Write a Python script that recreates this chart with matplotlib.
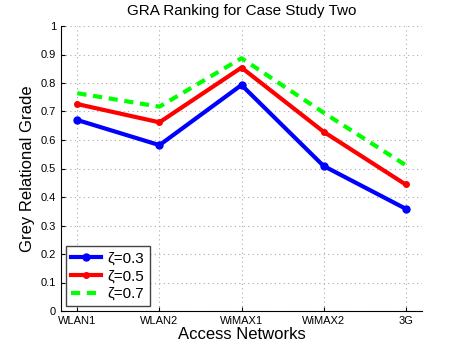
import numpy as np
import matplotlib
matplotlib.use("Agg")
import matplotlib.pyplot as plt

plt.rcParams['font.family'] = ['Liberation Sans', 'DejaVu Sans']

# Data
networks = ['WLAN1', 'WLAN2', 'WiMAX1', 'WiMAX2', '3G']
grade_03 = [0.670, 0.582, 0.793, 0.509, 0.359]
grade_05 = [0.726, 0.662, 0.854, 0.629, 0.444]
grade_07 = [0.764, 0.717, 0.887, 0.696, 0.512]
labels = ['ζ=0.3', 'ζ=0.5', 'ζ=0.7']

x = np.arange(1, len(networks) + 1)

fig = plt.figure(figsize=(4.66, 3.5), dpi=100)
ax = fig.add_axes([61 / 466, 39 / 350, 361 / 466, 285 / 350])

ax.plot(x, grade_03, color='#0000ff', lw=3, marker='o', ms=5, label=labels[0])
ax.plot(x, grade_05, color='#ff0000', lw=3, marker='o', ms=4, label=labels[1])
ax.plot(x, grade_07, color='#00ff00', lw=3, ls=(0, (2.2, 1.6)), label=labels[2])

ax.set_xlim(0.8, 5.2)
ax.set_ylim(0, 1)
ax.set_xticks(x)
ax.set_xticklabels(networks)
ax.set_yticks(np.arange(0, 1.01, 0.1))
ax.set_yticklabels(['0', '0.1', '0.2', '0.3', '0.4', '0.5', '0.6', '0.7', '0.8', '0.9', '1'])
ax.tick_params(direction='in', labelsize=8, length=3)
ax.spines['top'].set_visible(False)
ax.spines['right'].set_visible(False)
ax.grid(True, color='#aaaaaa', ls=(0, (1, 3)), lw=0.8)

ax.set_title('GRA Ranking for Case Study Two', fontsize=11, pad=8)
ax.set_xlabel('Access Networks', fontsize=12, labelpad=1)
ax.set_ylabel('Grey Relational Grade', fontsize=12)

leg = ax.legend(loc='lower left', fontsize=11, fancybox=False, framealpha=1,
                edgecolor='#444444', handlelength=2.0, borderaxespad=0.3,
                labelspacing=0.25, handletextpad=0.4, borderpad=0.35)
leg.get_frame().set_linewidth(1)

fig.savefig('out.png', dpi=100)
